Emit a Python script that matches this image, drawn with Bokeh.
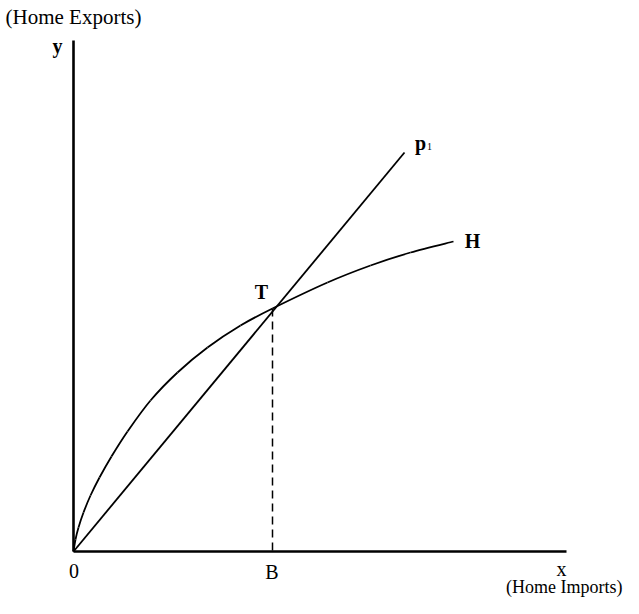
from bokeh.plotting import figure
from bokeh.models import Range1d
from bokeh.core.properties import value
from bokeh.embed import file_html
from bokeh.resources import INLINE

# Axis extents (data units)
x_axis_end = 49.3
y_axis_end = 51.1

# Home offer curve H
h_x = [0, 0.2, 0.5, 1.0, 1.7, 2.6, 3.8, 5.4, 7.7, 10.4, 13.4, 16.7, 19.9, 25.4, 29.7, 33.7, 38.0]
h_y = [0, 1.2, 2.4, 3.9, 5.6, 7.4, 9.5, 12.0, 15.1, 17.9, 20.4, 22.6, 24.3, 26.9, 28.6, 29.9, 31.0]

# Terms-of-trade ray p1
p1_x = [0, 33.1]
p1_y = [0, 39.9]

# Equilibrium point T and its projection B
t_x = 19.9
t_y = 24.3

FONT = value("Liberation Serif")

p = figure(width=623, height=598, output_backend="svg", toolbar_location=None,
           x_range=Range1d(-7.3, 55.0), y_range=Range1d(-4.7, 55.1),
           min_border=0, outline_line_color=None)
p.axis.visible = False
p.grid.visible = False
p.background_fill_color = "white"

# axes
p.line([0, 0], [0, y_axis_end], line_color="black", line_width=2.6)
p.line([0, x_axis_end], [0, 0], line_color="black", line_width=2.6)

# ray p1
p.line(p1_x, p1_y, line_color="black", line_width=1.8)

# curve H drawn as a smooth Catmull-Rom path through the read points
n = len(h_x)
x0s, y0s, x1s, y1s, cx0s, cy0s, cx1s, cy1s = [], [], [], [], [], [], [], []
for i in range(n - 1):
    a = max(i - 1, 0)
    d = min(i + 2, n - 1)
    x0s.append(h_x[i]); y0s.append(h_y[i])
    x1s.append(h_x[i + 1]); y1s.append(h_y[i + 1])
    cx0s.append(h_x[i] + (h_x[i + 1] - h_x[a]) / 6.0)
    cy0s.append(h_y[i] + (h_y[i + 1] - h_y[a]) / 6.0)
    cx1s.append(h_x[i + 1] - (h_x[d] - h_x[i]) / 6.0)
    cy1s.append(h_y[i + 1] - (h_y[d] - h_y[i]) / 6.0)
p.bezier(x0=x0s, y0=y0s, x1=x1s, y1=y1s, cx0=cx0s, cy0=cy0s, cx1=cx1s, cy1=cy1s,
         line_color="black", line_width=1.8)

# dashed drop line from T to B
p.line([t_x, t_x], [t_y, 0], line_color="black", line_width=1.5, line_dash="8 5")

# normal labels
p.text(x=[0.05, 19.85, 48.8], y=[-1.9, -2.0, -1.7], text=["0", "B", "x"],
       text_font=FONT, text_font_size="20px", text_align="center",
       text_baseline="middle", text_color="black")

# bold labels
p.text(x=[-1.6, 18.8, 39.9, 34.7], y=[50.6, 26.0, 31.1, 40.9], text=["y", "T", "H", "p"],
       text_font=FONT, text_font_size="20px", text_font_style="bold",
       text_align="center", text_baseline="middle", text_color="black")
p.text(x=[35.6], y=[40.5], text=["1"], text_font=FONT, text_font_size="10px",
       text_align="center", text_baseline="middle", text_color="black")

# axis titles
p.text(x=[-6.8], y=[53.5], text=["(Home Exports)"], text_font=FONT,
       text_font_size="21px", text_align="left", text_baseline="middle", text_color="black")
p.text(x=[54.9], y=[-3.5], text=["(Home Imports)"], text_font=FONT,
       text_font_size="18px", text_align="right", text_baseline="middle", text_color="black")

open("out.html", "w").write(file_html(p, INLINE))
